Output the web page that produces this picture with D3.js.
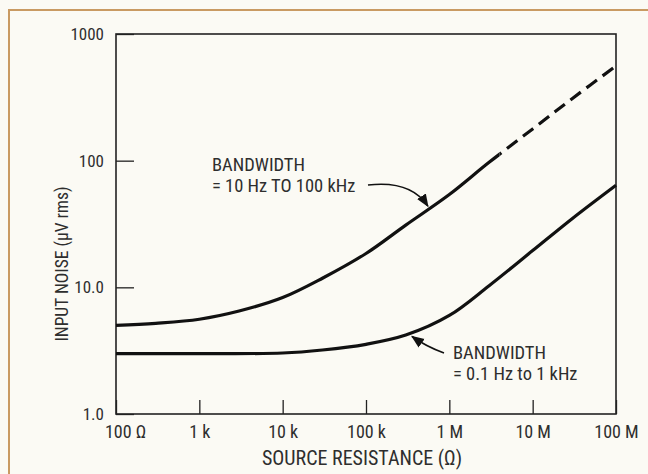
<!DOCTYPE html>
<html>
<head>
<meta charset="utf-8">
<script src="https://cdn.jsdelivr.net/npm/d3@7"></script>
<style>
  body { margin: 0; background: #fbfaf4; }
  svg { display: block; }
  text { font-family: "Liberation Sans Narrow", "Arial Narrow", "Roboto Condensed", sans-serif; fill: #2e2e2e; }
</style>
</head>
<body>
<div id="chart"></div>
<script>
// source resistance (ohms) and input noise (uV rms)
var resWide   = [100, 300, 1e3, 3e3, 1e4, 3e4, 1e5, 3e5, 1e6, 3e6, 1e7, 3e7, 1e8];
var noiseWide = [5.0, 5.2, 5.6, 6.5, 8.3, 11.8, 18.5, 31, 54, 97, 178, 310, 560];
var wideDashFrom = 4e6;  // upper curve goes dashed beyond this

var resNarrow   = [100, 1e3, 1e4, 3e4, 1e5, 3e5, 1e6, 3e6, 1e7, 3e7, 1e8];
var noiseNarrow = [3.0, 3.0, 3.03, 3.2, 3.55, 4.2, 6.0, 10.3, 19.5, 35, 64];

var xTicks = [1e2, 1e3, 1e4, 1e5, 1e6, 1e7, 1e8];
var xTickLabels = ["100 \u03A9", "1 k", "10 k", "100 k", "1 M", "10 M", "100 M"];
var yTicks = [1, 10, 100, 1000];
var yTickLabels = ["1.0", "10.0", "100", "1000"];

var W = 648, H = 474;
var margin = {top: 34, right: 32, bottom: 60, left: 116},
    width = W - margin.left - margin.right,
    height = H - margin.top - margin.bottom;

var svg = d3.select("#chart").append("svg")
    .attr("width", W).attr("height", H);

// page frame
svg.append("rect")
    .attr("x", 9).attr("y", 10).attr("width", 700).attr("height", 500)
    .attr("fill", "none").attr("stroke", "#c99a62").attr("stroke-width", 2);

var g = svg.append("g").attr("transform", "translate(" + margin.left + "," + margin.top + ")");

var x = d3.scaleLog().domain([100, 1e8]).range([0, width]);
var y = d3.scaleLog().domain([1, 1000]).range([height, 0]);

// x axis, ticks pointing up into the plot
var xAxis = g.append("g")
    .attr("transform", "translate(0," + height + ")")
    .call(d3.axisBottom(x).tickValues(xTicks).tickSize(-14).tickPadding(11)
        .tickFormat(function(d, i) { return xTickLabels[i]; }));
xAxis.select(".domain").remove();
xAxis.selectAll("line").attr("stroke", "#222").attr("stroke-width", 1.3);
xAxis.selectAll("text").style("font-size", "18px").attr("fill", "#2e2e2e")
    .attr("font-family", null)
    .attr("dx", function(d, i) { return i === 0 ? 9 : 0; });

var yAxis = g.append("g")
    .call(d3.axisLeft(y).tickValues(yTicks).tickSize(-18).tickPadding(12)
        .tickFormat(function(d, i) { return yTickLabels[i]; }));
yAxis.select(".domain").remove();
yAxis.selectAll("line").attr("stroke", "#222").attr("stroke-width", 1.3);
yAxis.selectAll("text").style("font-size", "17px").attr("fill", "#2e2e2e")
    .attr("font-family", null);

// plot box
g.append("rect")
    .attr("width", width).attr("height", height)
    .attr("fill", "none").attr("stroke", "#222").attr("stroke-width", 1.6);

var line = d3.line()
    .x(function(d) { return x(d[0]); })
    .y(function(d) { return y(d[1]); })
    .curve(d3.curveCatmullRom.alpha(0.5));

var wide = d3.zip(resWide, noiseWide);
var narrow = d3.zip(resNarrow, noiseNarrow);

var defs = svg.append("defs");
defs.append("clipPath").attr("id", "solidPart").append("rect")
    .attr("x", -5).attr("y", -5).attr("width", x(wideDashFrom) + 5).attr("height", height + 10);
defs.append("clipPath").attr("id", "dashPart").append("rect")
    .attr("x", x(wideDashFrom)).attr("y", -5).attr("width", width - x(wideDashFrom) + 5).attr("height", height + 10);

g.append("path").datum(wide)
    .attr("clip-path", "url(#solidPart)")
    .attr("fill", "none").attr("stroke", "#111").attr("stroke-width", 3.2)
    .attr("d", line);
g.append("path").datum(wide)
    .attr("clip-path", "url(#dashPart)")
    .attr("fill", "none").attr("stroke", "#111").attr("stroke-width", 3.2)
    .attr("stroke-dasharray", "13,7")
    .attr("d", line);
g.append("path").datum(narrow)
    .attr("fill", "none").attr("stroke", "#111").attr("stroke-width", 3.2)
    .attr("d", line);

// arrowhead
defs.append("marker").attr("id", "arrow")
    .attr("viewBox", "0 0 10 10").attr("refX", 9).attr("refY", 5)
    .attr("markerWidth", 13).attr("markerHeight", 13).attr("orient", "auto")
    .attr("markerUnits", "userSpaceOnUse")
  .append("path").attr("d", "M0,1 L10,5 L0,9 Z").attr("fill", "#111");

// annotation: upper curve
svg.append("text").style("font-size", "18.5px").attr("x", 212).attr("y", 171).text("BANDWIDTH");
svg.append("text").style("font-size", "18.5px").attr("x", 212).attr("y", 192).text("= 10 Hz TO 100 kHz");
var a1x = margin.left + x(6e5), a1y = margin.top + y(40);
svg.append("path")
    .attr("d", "M368,185 Q" + (a1x - 20) + ",180 " + (a1x - 3) + "," + (a1y - 5))
    .attr("fill", "none").attr("stroke", "#111").attr("stroke-width", 1.6)
    .attr("marker-end", "url(#arrow)");

// annotation: lower curve
svg.append("text").style("font-size", "18.5px").attr("x", 453).attr("y", 359).text("BANDWIDTH");
svg.append("text").style("font-size", "18.5px").attr("x", 453).attr("y", 380).text("= 0.1 Hz to 1 kHz");
var a2x = margin.left + x(3.2e5), a2y = margin.top + y(4.4);
svg.append("path")
    .attr("d", "M444,353 Q" + (a2x + 18) + "," + (a2y + 14) + " " + (a2x + 4) + "," + (a2y + 4))
    .attr("fill", "none").attr("stroke", "#111").attr("stroke-width", 1.6)
    .attr("marker-end", "url(#arrow)");

// axis titles
svg.append("text")
    .attr("x", 362).attr("y", 465)
    .attr("text-anchor", "middle").style("font-size", "20px")
    .text("SOURCE RESISTANCE (\u03A9)");
svg.append("text")
    .attr("transform", "translate(68,264) rotate(-90)")
    .attr("text-anchor", "middle").style("font-size", "17.5px")
    .text("INPUT NOISE (\u03BCV rms)");
</script>
</body>
</html>
